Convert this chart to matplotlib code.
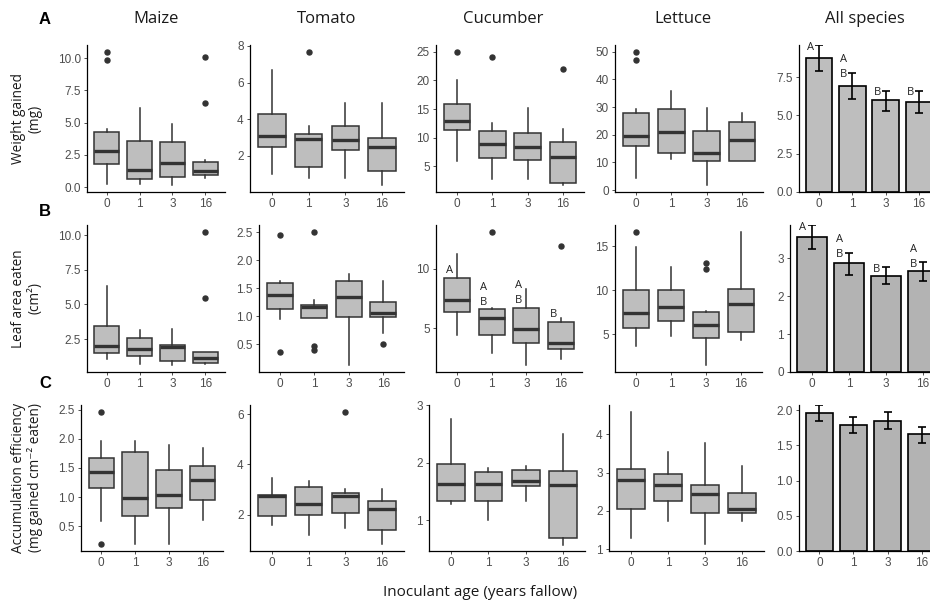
import matplotlib
matplotlib.use("Agg")
import matplotlib.pyplot as plt

# Categories (inoculant age, years fallow)
ages = ['0', '1', '3', '16']

# Box stats per age: [whisker low, q1, median, q3, whisker high]
weight_maize = [[0.28, 1.82, 2.82, 4.31, 4.49], [0.28, 0.67, 1.31, 3.56, 6.10],
                [0.15, 0.80, 1.87, 3.49, 4.90], [0.72, 0.97, 1.23, 1.95, 2.10]]
weight_maize_out = [[10.5, 9.87], [], [], [10.08, 6.49]]
weight_tomato = [[1.00, 2.51, 3.09, 4.29, 6.69], [0.80, 1.42, 2.91, 3.18, 3.65],
                 [0.80, 2.33, 2.87, 3.65, 4.91], [0.40, 1.20, 2.47, 3.00, 4.91]]
weight_tomato_out = [[], [7.69], [], []]
weight_cucumber = [[5.95, 11.30, 12.94, 15.86, 20.06], [2.86, 6.41, 8.86, 11.20, 12.48],
                   [2.86, 6.18, 8.40, 10.90, 15.16], [1.70, 2.10, 6.65, 9.33, 11.50]]
weight_cucumber_out = [[25.0], [24.0], [], [21.9]]
weight_lettuce = [[4.5, 15.8, 19.4, 27.9, 29.2], [11.1, 13.5, 20.8, 29.2, 35.9],
                  [1.7, 10.4, 13.5, 21.4, 29.5], [10.5, 10.5, 18.0, 24.5, 28.0]]
weight_lettuce_out = [[50.0, 47.0], [], [], []]

leaf_maize = [[1.06, 1.47, 1.97, 3.46, 6.35], [0.70, 1.27, 1.80, 2.60, 3.17],
              [0.60, 0.89, 1.95, 2.09, 3.25], [0.70, 0.75, 1.13, 1.59, 1.59]]
leaf_maize_out = [[], [], [], [10.26, 5.46]]
leaf_tomato = [[0.95, 1.13, 1.375, 1.595, 1.625], [0.96, 0.96, 1.16, 1.19, 1.28],
               [0.12, 0.99, 1.35, 1.62, 1.76], [0.70, 0.98, 1.06, 1.26, 1.62]]
leaf_tomato_out = [[2.45, 0.357], [2.51, 0.46, 0.39], [], [0.50]]
leaf_cucumber = [[4.49, 6.40, 7.36, 9.21, 11.24], [2.95, 4.49, 5.84, 6.66, 6.74],
                 [1.91, 3.76, 4.97, 6.69, 8.29], [2.47, 3.26, 3.79, 5.50, 5.84]]
leaf_cucumber_out = [[], [13.1], [], [11.9]]
leaf_cucumber_letters = ['A', 'AB', 'AB', 'B']
leaf_cucumber_letter_y = [10.03, 7.36, 7.50, 6.38]
leaf_lettuce = [[3.65, 5.74, 7.45, 10.0, 14.87], [4.75, 6.50, 8.10, 10.04, 12.66],
                [1.44, 4.60, 6.00, 7.49, 7.64], [4.30, 5.25, 8.37, 10.11, 16.65]]
leaf_lettuce_out = [[16.65], [], [13.08, 12.43], []]

eff_maize = [[0.585, 1.16, 1.426, 1.676, 1.955], [0.20, 0.67, 0.99, 1.77, 1.955],
             [0.19, 0.807, 1.04, 1.466, 1.89], [0.60, 0.95, 1.30, 1.54, 1.85]]
eff_maize_out = [[2.466, 0.20], [], [], []]
eff_tomato = [[1.59, 1.93, 2.76, 2.78, 3.47], [1.20, 1.97, 2.42, 3.10, 3.33],
              [1.49, 2.07, 2.75, 2.88, 3.01], [0.82, 1.38, 2.21, 2.55, 3.01]]
eff_tomato_out = [[], [], [6.10], []]
eff_cucumber = [[1.28, 1.34, 1.63, 1.98, 2.75], [1.01, 1.34, 1.63, 1.84, 1.91],
                [1.34, 1.59, 1.69, 1.87, 1.94], [0.58, 0.69, 1.62, 1.85, 2.50]]
eff_cucumber_out = [[], [], [], []]
eff_lettuce = [[1.29, 2.04, 2.81, 3.10, 4.59], [1.73, 2.27, 2.68, 2.96, 3.55],
               [1.13, 1.96, 2.43, 2.69, 3.76], [1.74, 1.96, 2.04, 2.46, 3.18]]
eff_lettuce_out = [[], [], [], []]

# All species: mean with error bar limits
weight_all_mean = [8.74, 6.90, 5.97, 5.90]
weight_all_lo = [7.90, 6.08, 5.28, 5.17]
weight_all_hi = [9.59, 7.77, 6.60, 6.60]
weight_all_letters = ['A', 'AB', 'B', 'B']
leaf_all_mean = [3.56, 2.86, 2.54, 2.66]
leaf_all_lo = [3.25, 2.56, 2.31, 2.39]
leaf_all_hi = [3.87, 3.14, 2.76, 2.89]
leaf_all_letters = ['A', 'AB', 'B', 'AB']
eff_all_mean = [1.967, 1.79, 1.85, 1.66]
eff_all_lo = [1.85, 1.67, 1.74, 1.54]
eff_all_hi = [2.075, 1.91, 1.97, 1.76]

species = ['Maize', 'Tomato', 'Cucumber', 'Lettuce', 'All species']
row_labels = ['Weight gained\n(mg)', 'Leaf area eaten\n(cm\u00b2)',
              'Accumulation efficiency\n(mg gained cm\u207b\u00b2 eaten)']

W, H = 930, 603
LABEL_FONT = ['Open Sans', 'DejaVu Sans']
TICK_FONT = ['Liberation Sans', 'DejaVu Sans']
BOX_EDGE = '#333333'

fig = plt.figure(figsize=(W / 100, H / 100), dpi=100)

# panel pixel boxes: rows (top, bottom), columns (left, right) per row
row_tb = [(45, 192), (225, 372), (405, 551)]
col_lr = [
    [(87, 225), (250, 404), (436, 584), (615, 763), (799, 939)],
    [(87, 225), (259, 404), (436, 582), (615, 762), (790, 945)],
    [(81, 223), (250, 404), (429, 585), (609, 764), (799, 942)],
]


def make_ax(r, c):
    top, bot = row_tb[r]
    left, right = col_lr[r][c]
    ax = fig.add_axes([left / W, 1 - bot / H, (right - left) / W, (bot - top) / H])
    for s in ['top', 'right']:
        ax.spines[s].set_visible(False)
    for s in ['left', 'bottom']:
        ax.spines[s].set_linewidth(0.9)
        ax.spines[s].set_color('black')
    ax.tick_params(length=2.5, width=0.6, color='#333333', pad=2,
                   labelsize=8.5, labelcolor='#4D4D4D')
    ax.set_xlim(-0.6, 3.6)
    ax.patch.set_alpha(0)
    return ax


def set_ticks(ax, yticks, fmt):
    ax.set_xticks(range(4))
    ax.set_xticklabels(ages)
    ax.set_yticks(yticks)
    ax.set_yticklabels([fmt.format(v) for v in yticks])
    for lab in ax.get_xticklabels() + ax.get_yticklabels():
        lab.set_fontfamily(TICK_FONT)


def box_panel(r, c, stats, outliers, yticks, fmt):
    ax = make_ax(r, c)
    bstats = []
    allv = []
    for st, out in zip(stats, outliers):
        lo, q1, med, q3, hi = st
        bstats.append(dict(whislo=lo, q1=q1, med=med, q3=q3, whishi=hi, fliers=out))
        allv += list(st) + list(out)
    ax.bxp(bstats, positions=range(4), widths=0.75, patch_artist=True,
           showcaps=False,
           boxprops=dict(facecolor='#BEBEBE', edgecolor=BOX_EDGE, linewidth=1.1),
           medianprops=dict(color=BOX_EDGE, linewidth=2.4, solid_capstyle='butt'),
           whiskerprops=dict(color=BOX_EDGE, linewidth=1.1),
           flierprops=dict(marker='o', markerfacecolor=BOX_EDGE,
                           markeredgecolor=BOX_EDGE, markersize=3.6))
    lo, hi = min(allv), max(allv)
    span = hi - lo
    ax.set_ylim(lo - 0.05 * span, hi + 0.05 * span)
    ax.set_xlim(-0.6, 3.6)
    set_ticks(ax, yticks, fmt)
    return ax


def letters(ax, xs, ys, labs, dx):
    for x, y, lab in zip(xs, ys, labs):
        n = len(lab)
        for k, ch in enumerate(lab):
            ax.annotate(ch, xy=(x + dx, y), xytext=(0, (n - 1 - k) * 11 - 1.5),
                        textcoords='offset points', ha='center', va='center',
                        fontsize=8, color='#222222', family=LABEL_FONT)


def bar_panel(r, c, mean, lo, hi, yticks, fmt, fill, labs=None):
    ax = make_ax(r, c)
    x = list(range(4))
    ax.bar(x, mean, width=0.8, color=fill, edgecolor='black', linewidth=1.2, zorder=2)
    ax.errorbar(x, mean, yerr=[[m - l for m, l in zip(mean, lo)],
                               [h - m for m, h in zip(mean, hi)]],
                fmt='none', ecolor='black', elinewidth=1.2, capsize=2.6,
                capthick=1.2, zorder=3)
    ax.set_ylim(0, max(hi))
    set_ticks(ax, yticks, fmt)
    if labs:
        letters(ax, x, hi, labs, -0.26)
    return ax


# Row A: weight gained
box_panel(0, 0, weight_maize, weight_maize_out, [0, 2.5, 5, 7.5, 10], '{:.1f}')
box_panel(0, 1, weight_tomato, weight_tomato_out, [2, 4, 6, 8], '{:.0f}')
box_panel(0, 2, weight_cucumber, weight_cucumber_out, [5, 10, 15, 20, 25], '{:.0f}')
box_panel(0, 3, weight_lettuce, weight_lettuce_out, [0, 10, 20, 30, 40, 50], '{:.0f}')
bar_panel(0, 4, weight_all_mean, weight_all_lo, weight_all_hi, [0, 2.5, 5, 7.5],
          '{:.1f}', '#BEBEBE', weight_all_letters)

# Row B: leaf area eaten
box_panel(1, 0, leaf_maize, leaf_maize_out, [2.5, 5, 7.5, 10], '{:.1f}')
box_panel(1, 1, leaf_tomato, leaf_tomato_out, [0.5, 1.0, 1.5, 2.0, 2.5], '{:.1f}')
ax_cu = box_panel(1, 2, leaf_cucumber, leaf_cucumber_out, [5, 10], '{:.0f}')
letters(ax_cu, range(4), leaf_cucumber_letter_y, leaf_cucumber_letters, -0.22)
box_panel(1, 3, leaf_lettuce, leaf_lettuce_out, [5, 10, 15], '{:.0f}')
bar_panel(1, 4, leaf_all_mean, leaf_all_lo, leaf_all_hi, [0, 1, 2, 3],
          '{:.0f}', '#B3B3B3', leaf_all_letters)

# Row C: accumulation efficiency
box_panel(2, 0, eff_maize, eff_maize_out, [0.5, 1.0, 1.5, 2.0, 2.5], '{:.1f}')
box_panel(2, 1, eff_tomato, eff_tomato_out, [2, 4, 6], '{:.0f}')
box_panel(2, 2, eff_cucumber, eff_cucumber_out, [1, 2, 3], '{:.0f}')
box_panel(2, 3, eff_lettuce, eff_lettuce_out, [1, 2, 3, 4], '{:.0f}')
bar_panel(2, 4, eff_all_mean, eff_all_lo, eff_all_hi, [0, 0.5, 1.0, 1.5, 2.0],
          '{:.1f}', '#B3B3B3')

# column titles
title_x = [156, 327, 503, 683, 865]
for name, tx in zip(species, title_x):
    fig.text(tx / W, 1 - 19 / H, name, ha='center', va='center',
             fontsize=12, family=LABEL_FONT, color='#1A1A1A')

# panel letters
for lab, ty in zip(['A', 'B', 'C'], [19, 211, 384]):
    fig.text(45 / W, 1 - ty / H, lab, ha='center', va='center', fontsize=12,
             fontweight='bold', family=TICK_FONT, color='black')

# row labels
for lab, (top, bot) in zip(row_labels, row_tb):
    fig.text(27 / W, 1 - (top + bot) / 2 / H, lab, rotation=90, ha='center',
             va='center', multialignment='center', fontsize=9.8,
             family=LABEL_FONT, color='#1A1A1A', linespacing=1.1)

fig.text(480 / W, 1 - 592 / H, 'Inoculant age (years fallow)', ha='center',
         va='center', fontsize=11, family=LABEL_FONT, color='#1A1A1A')

fig.savefig('out.png', dpi=100)
